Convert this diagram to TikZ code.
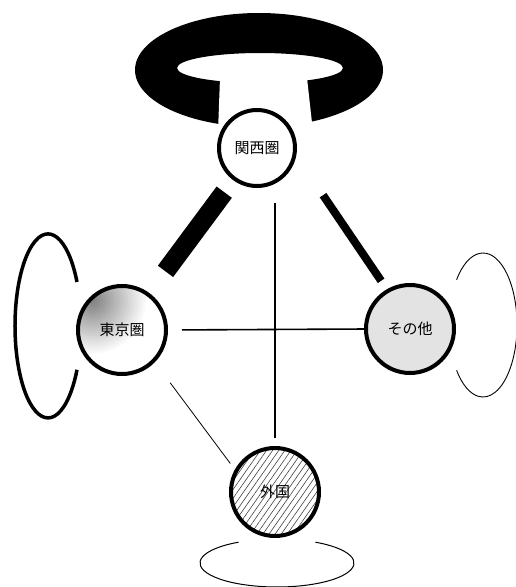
\documentclass[tikz,border=0pt]{standalone}
\usepackage{fontspec}
\newfontfamily\jpfont{Noto Sans CJK JP}
\usetikzlibrary{patterns.meta}

\begin{document}
\begin{tikzpicture}[x=1pt,y=-1pt,
  area/.style={circle,draw,line width=4pt,minimum size=88pt,inner sep=0pt,outer sep=0pt,
    font=\jpfont\fontsize{15}{15}\selectfont},
  thinlink/.style={line width=1.6pt}]
\useasboundingbox (0,0) rectangle (516,587);
% ring above Kansai
\fill[even odd rule] (259,70) ellipse [x radius=124,y radius=57]
  (260,68) ellipse [x radius=83,y radius=15];
\fill[white] (220,78) -- (307,78) -- (313,132) -- (218,132) -- cycle;
% shade of Tokyo, dark to the upper left
\coordinate (tokyoc) at (122,330);
\begin{scope}
\clip (tokyoc) circle[radius=44];
\foreach \k [evaluate=\k as \c using 2.3*\k, evaluate=\k as \r using 56-2.5*\k] in {0,...,21}
  \fill[black!\c] ([shift={(-30,-30)}]tokyoc) circle[radius=\r];
\end{scope}
% areas
\node[area,minimum size=76pt,fill=white] (kansai) at (257,148) {関西圏};
\node[area] (tokyo) at (tokyoc) {東京圏};
\node[area,fill=gray!22] (sonota) at (410,329) {その他};
\node[area,pattern={Lines[angle=55,distance=5pt,line width=0.6pt]},pattern color=black!75] (gaikoku) at (275,492) {外国};
% links
\draw[line width=19pt,shorten <=17pt,shorten >=29pt] (kansai) -- (tokyo);
\draw[line width=8pt,shorten <=50.6pt,shorten >=12.2pt] (kansai.-8) -- (sonota.120.4);
\draw[thinlink,shorten <=17pt,shorten >=10pt] (kansai.south -| gaikoku.north) -- (gaikoku.north);
\draw[thinlink,shorten <=16pt] (tokyo.east) -- (sonota.west);
\draw[line width=0.8pt,shorten <=27.7pt,shorten >=9.8pt] (tokyo.-44.3) -- (gaikoku.152.9);
% loops
\draw[line width=3.5pt] ([shift={(-45,-48)}]tokyo.center)
  arc[start angle=-28.5,end angle=-331.5,x radius=33,y radius=92];
\draw[line width=0.9pt] ([shift={(46.6,-49.3)}]sonota.center)
  arc[start angle=-141,end angle=141,x radius=34,y radius=72];
\draw[line width=1pt] ([shift={(-36.5,50.2)}]gaikoku.center)
  arc[start angle=-120,end angle=-420,x radius=77,y radius=24];
\end{tikzpicture}
\end{document}
